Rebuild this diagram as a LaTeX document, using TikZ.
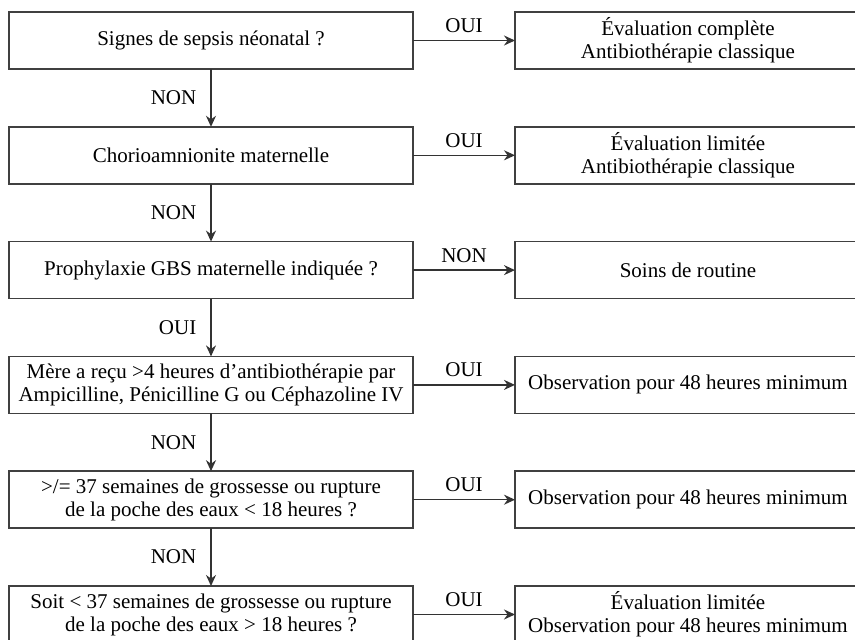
\documentclass[tikz,border=0pt]{standalone}
\usepackage{fontspec}
\setmainfont{Liberation Serif}
\usetikzlibrary{arrows.meta}
\usetikzlibrary{positioning}

\tikzset{
    boite/.style={draw=black!75, line width=1.5pt, minimum width=404pt, minimum height=57pt,
        inner sep=0pt, outer sep=0pt, align=center, font=\fontsize{21}{23}\selectfont},
    resultat/.style={boite, minimum width=346pt},
    fleche/.style={draw=black!80, line width=1.5pt, -{Stealth[length=11pt,width=10pt]}},
    etiq/.style={font=\fontsize{21}{23}\selectfont, inner sep=2pt}
}

\begin{document}
\begin{tikzpicture}[x=1pt,y=-1pt]
        \useasboundingbox (0,0) rectangle (855,640);
        \clip (0,0) rectangle (855,640);
        % questions
        \node[boite] (q1) at (211,40.5) {Signes de sepsis néonatal ?};
        \node[boite, below=57.8pt of q1] (q2) {Chorioamnionite maternelle};
        \node[boite, below=57.8pt of q2] (q3) {Prophylaxie GBS maternelle indiquée ?};
        \node[boite, below=57.8pt of q3] (q4) {Mère a reçu >4 heures d'antibiothérapie par\\Ampicilline, Pénicilline G ou Céphazoline IV};
        \node[boite, below=57.8pt of q4] (q5) {>/= 37 semaines de grossesse ou rupture\\de la poche des eaux < 18 heures ?};
        \node[boite, below=57.8pt of q5] (q6) {Soit < 37 semaines de grossesse ou rupture\\de la poche des eaux > 18 heures ?};
        % conduites
        \node[resultat, right=102pt of q1] (r1) {Évaluation complète\\Antibiothérapie classique};
        \node[resultat, right=102pt of q2] (r2) {Évaluation limitée\\Antibiothérapie classique};
        \node[resultat, right=102pt of q3] (r3) {Soins de routine};
        \node[resultat, right=102pt of q4] (r4) {Observation pour 48 heures minimum};
        \node[resultat, right=102pt of q5] (r5) {Observation pour 48 heures minimum};
        \node[resultat, right=102pt of q6] (r6) {Évaluation limitée\\Observation pour 48 heures minimum};
        % flèches horizontales
        \draw[fleche] (q1) -- node[etiq, above=5pt] {OUI} (r1);
        \draw[fleche] (q2) -- node[etiq, above=5pt] {OUI} (r2);
        \draw[fleche] (q3) -- node[etiq, above=5pt] {NON} (r3);
        \draw[fleche] (q4) -- node[etiq, above=5pt] {OUI} (r4);
        \draw[fleche] (q5) -- node[etiq, above=5pt] {OUI} (r5);
        \draw[fleche] (q6) -- node[etiq, above=5pt] {OUI} (r6);
        % flèches verticales
        \draw[fleche] (q1) -- node[etiq, left=12pt] {NON} (q2);
        \draw[fleche] (q2) -- node[etiq, left=12pt] {NON} (q3);
        \draw[fleche] (q3) -- node[etiq, left=12pt] {OUI} (q4);
        \draw[fleche] (q4) -- node[etiq, left=12pt] {NON} (q5);
        \draw[fleche] (q5) -- node[etiq, left=12pt] {NON} (q6);
    \end{tikzpicture}
\end{document}
